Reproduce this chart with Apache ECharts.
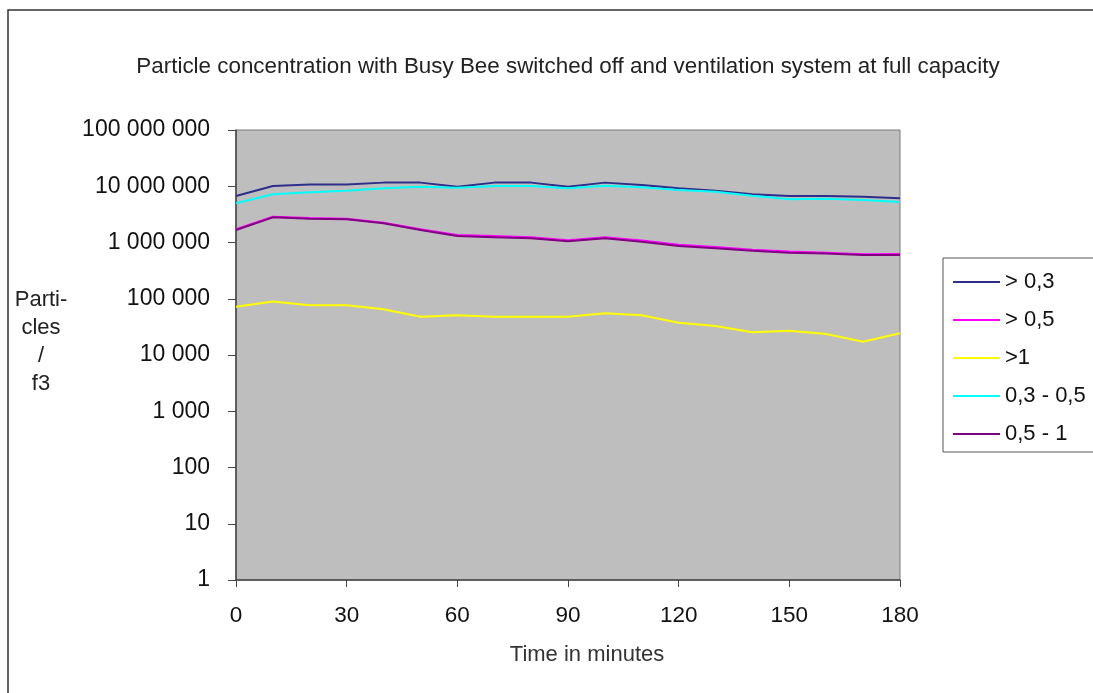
<!DOCTYPE html>
<html>
<head>
<meta charset="utf-8">
<script src="https://cdn.jsdelivr.net/npm/echarts@6/dist/echarts.min.js"></script>
<style>
html,body{margin:0;padding:0;background:#fff;}
#chart{width:1093px;height:693px;}
</style>
</head>
<body>
<div id="chart"></div>
<script>
const times = [0,10,20,30,40,50,60,70,80,90,100,110,120,130,140,150,160,170,180];
const over03 = [6700000,10100000,10700000,10700000,11600000,11600000,9800000,11600000,11600000,9800000,11600000,10500000,9200000,8300000,7200000,6700000,6700000,6500000,6100000];
const over05 = [1720000,2880000,2720000,2650000,2250000,1720000,1360000,1300000,1240000,1100000,1240000,1090000,910000,830000,740000,690000,660000,620000,625000];
const over1 = [72000,89000,77000,77000,65000,48000,51000,48000,48000,48000,55000,51000,37500,32800,25300,27000,23600,17200,24300];
const r03_05 = [4980000,7200000,7800000,8300000,9200000,9800000,9400000,10100000,10100000,9200000,10200000,9600000,8600000,8000000,6800000,5900000,6000000,5700000,5250000];
const r05_1 = [1670000,2800000,2650000,2580000,2190000,1670000,1310000,1240000,1190000,1050000,1190000,1030000,870000,790000,710000,660000,640000,600000,600000];
const seriesNames = ['> 0,3','> 0,5','>1','0,3 - 0,5','0,5 - 1'];
const seriesColors = ['#2e2e8c','#ff00ff','#ffff00','#00ffff','#800080'];
const seriesData = [over03, over05, over1, r03_05, r05_1];
const titleText = 'Particle concentration with Busy Bee switched off and ventilation system at full capacity';
const xName = 'Time in minutes';
const yName = 'Parti-\ncles\n/\nf3';

function fmt(v){
  return String(Math.round(v)).replace(/\B(?=(\d{3})+(?!\d))/g,' ');
}
const font = 'Liberation Sans, Arial, sans-serif';
const chart = echarts.init(document.getElementById('chart'));
chart.setOption({
  animation:false,
  backgroundColor:'#fff',
  grid:{left:236,right:193,top:130,bottom:113,show:true,backgroundColor:'#bebebe',borderColor:'#7a7a7a',borderWidth:1},
  legend:{
    orient:'vertical',left:943,top:258,
    data:seriesNames,
    icon:'rect',itemWidth:47,itemHeight:2,itemGap:16,
    padding:[13,30,7,10],
    borderColor:'#555',borderWidth:1,backgroundColor:'#fff',
    textStyle:{fontFamily:font,fontSize:22,color:'#111',lineHeight:22}
  },
  xAxis:{type:'value',min:0,max:180,interval:30,
    axisLine:{show:true,lineStyle:{color:'#444',width:1.5}},
    axisTick:{show:true,inside:false,length:7,lineStyle:{color:'#444'}},
    axisLabel:{fontFamily:font,fontSize:22.5,color:'#111',margin:24},
    splitLine:{show:false}},
  yAxis:{type:'log',logBase:10,min:1,max:100000000,
    axisLine:{show:true,lineStyle:{color:'#444',width:1.5}},
    axisTick:{show:true,inside:false,length:8,lineStyle:{color:'#444'}},
    axisLabel:{fontFamily:font,fontSize:23,color:'#111',margin:26,formatter:fmt},
    minorTick:{show:false},
    splitLine:{show:false}},
  graphic:[
    {type:'rect',shape:{x:8,y:10,width:1100,height:700},style:{fill:'none',stroke:'#333',lineWidth:1.5},z:-1},
    {type:'text',x:568,y:56,style:{text:titleText,font:'22.4px '+font,fill:'#222',align:'center'},z:10},
    {type:'text',x:41,y:286,style:{text:yName,font:'22px '+font,fill:'#222',align:'center',lineHeight:28},z:10},
    {type:'text',x:587,y:644,style:{text:xName,font:'22px '+font,fill:'#333',align:'center'},z:10}
  ],
  series:seriesNames.map((n,i)=>({
    name:n,type:'line',
    data:times.map((t,j)=>[t,seriesData[i][j]]),
    showSymbol:false,symbol:'none',
    lineStyle:{color:seriesColors[i],width:2},
    itemStyle:{color:seriesColors[i]},
    z:2+i
  }))
});
</script>
</body>
</html>
